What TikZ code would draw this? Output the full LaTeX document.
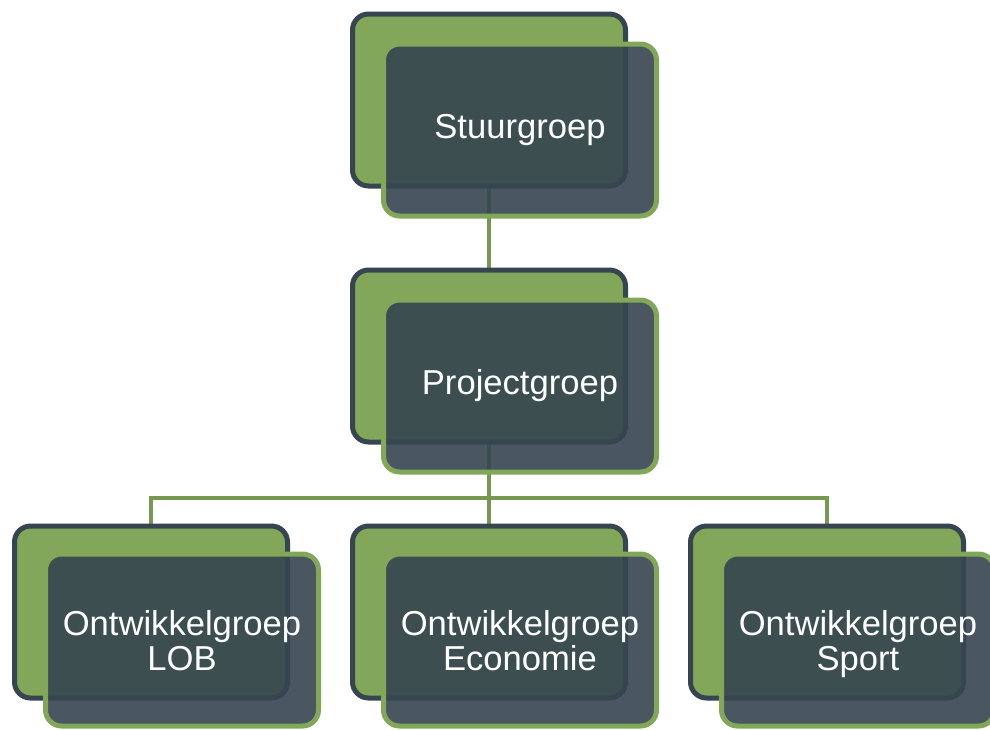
\documentclass[tikz,border=0pt]{standalone}
\usepackage{fontspec}
\setmainfont{Liberation Sans}
\usetikzlibrary{backgrounds}
\definecolor{boxgreen}{RGB}{130,167,90}
\definecolor{boxdark}{RGB}{54,69,79}
\definecolor{linegreen}{RGB}{118,152,80}
\begin{document}
\begin{tikzpicture}[x=1pt,y=-1pt,
  backbox/.style={draw=boxdark, fill=boxgreen, line width=5pt, rounded corners=16pt,
    minimum width=273pt, minimum height=172pt, inner sep=0pt, outer sep=0pt},
  frontbox/.style={draw=boxgreen, fill=boxdark, fill opacity=0.9, text opacity=1,
    line width=5pt, rounded corners=16pt, minimum width=273pt, minimum height=172pt,
    inner sep=0pt, outer sep=0pt, text=white, align=center,
    font=\fontsize{34.6pt}{35pt}\selectfont},
  twoline/.style={text depth=0pt},
  conn/.style={draw=linegreen, line width=4pt}]
\useasboundingbox (0,0) rectangle (990,729);
% back boxes
\node[backbox] (sb) at (489,100) {};
\node[backbox] (pb) at (489,356) {};
\node[backbox] (lb) at (151,612) {};
\node[backbox] (eb) at (489,612) {};
\node[backbox] (rb) at (827,612) {};
% front boxes
\node[frontbox] (sf) at (520,130) {Stuurgroep};
\node[frontbox] (pf) at (520,386) {Projectgroep};
\node[frontbox,twoline] (lf) at (182,640) {Ontwikkelgroep\\LOB};
\node[frontbox,twoline] (ef) at (520,640) {Ontwikkelgroep\\Economie};
\node[frontbox,twoline] (rf) at (858,640) {Ontwikkelgroep\\Sport};
\coordinate (bus) at (489,498);
\begin{scope}[on background layer]
\draw[conn] (sb.south) -- (pb.north);
\draw[conn] (pb.south) -- (eb.north);
\draw[conn] (lb.north) |- (bus) -| (rb.north);
\end{scope}
\end{tikzpicture}
\end{document}
